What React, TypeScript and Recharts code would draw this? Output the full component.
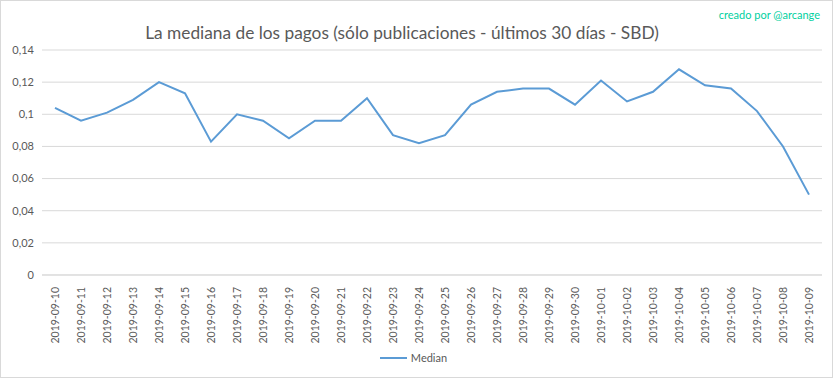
import React from 'react';
import { LineChart, Line, XAxis, YAxis, CartesianGrid, Legend } from 'recharts';

const dates = [
  '2019-09-10','2019-09-11','2019-09-12','2019-09-13','2019-09-14','2019-09-15','2019-09-16','2019-09-17','2019-09-18','2019-09-19',
  '2019-09-20','2019-09-21','2019-09-22','2019-09-23','2019-09-24','2019-09-25','2019-09-26','2019-09-27','2019-09-28','2019-09-29',
  '2019-09-30','2019-10-01','2019-10-02','2019-10-03','2019-10-04','2019-10-05','2019-10-06','2019-10-07','2019-10-08','2019-10-09',
];
const medians = [
  0.104, 0.096, 0.101, 0.109, 0.12, 0.113, 0.083, 0.1, 0.096, 0.085,
  0.096, 0.096, 0.11, 0.087, 0.082, 0.087, 0.106, 0.114, 0.116, 0.116,
  0.106, 0.121, 0.108, 0.114, 0.128, 0.118, 0.116, 0.102, 0.08, 0.05,
];
const yTicks = [0, 0.02, 0.04, 0.06, 0.08, 0.1, 0.12, 0.14];
const title = 'La mediana de los pagos (sólo publicaciones - últimos 30 días - SBD)';
const credit = 'creado por @arcange';
const seriesName = 'Median';

const data = dates.map((d, i) => ({ date: d, Median: medians[i] }));
const FONT = 'Lato, "Open Sans", sans-serif';

const fmt = (v: number) => String(Number(v.toFixed(2))).replace('.', ',');

const XTick = (props: any) => {
  const { x, y, payload } = props;
  return (
    <text x={x} y={y + 4} transform={`rotate(-90 ${x} ${y + 4})`} textAnchor="end" dominantBaseline="central"
      fill="#595959" fontSize={10.5} fontFamily={FONT}>
      {payload.value}
    </text>
  );
};

const LegendContent = () => (
  <div style={{ display: 'flex', justifyContent: 'center', alignItems: 'center', fontFamily: FONT, fontSize: 11, color: '#595959', paddingLeft: 4 }}>
    <svg width={28} height={6}><line x1={0} y1={3} x2={27} y2={3} stroke="#5b9bd5" strokeWidth={2} /></svg>
    <span style={{ marginLeft: 3 }}>{seriesName}</span>
  </div>
);

export default function App() {
  return (
    <div style={{ position: 'absolute', left: 0, top: 0, width: 833, height: 378, background: '#fff', border: '1px solid #d9d9d9', boxSizing: 'border-box' }}>
      <div style={{ position: 'absolute', left: 0, top: 0, width: 833, height: 378 }}>
        <LineChart width={833} height={378} data={data} margin={{ top: 49, right: 12, left: 0, bottom: 0 }}>
          <CartesianGrid vertical={false} stroke="#d9d9d9" strokeWidth={1} />
          <XAxis dataKey="date" interval={0} tick={<XTick />} tickLine={false} axisLine={{ stroke: '#d9d9d9' }} height={76}
            padding={{ left: 13, right: 13 }} />
          <YAxis width={41} domain={[0, 0.14]} ticks={yTicks} tickFormatter={fmt} axisLine={false} tickLine={false}
            tick={{ fill: '#595959', fontSize: 11, fontFamily: FONT }} />
          <Legend verticalAlign="bottom" height={28} content={<LegendContent />} />
          <Line type="linear" dataKey="Median" name={seriesName} stroke="#5b9bd5" strokeWidth={2} dot={false} isAnimationActive={false} />
        </LineChart>
      </div>
      <div style={{ position: 'absolute', left: 0, width: 802, top: 21, textAlign: 'center', fontFamily: FONT, fontSize: 17.3, color: '#595959', whiteSpace: 'nowrap' }}>
        {title}
      </div>
      <div style={{ position: 'absolute', right: 12, top: 7, fontFamily: FONT, fontSize: 11, color: '#00d0a0', whiteSpace: 'nowrap' }}>
        {credit}
      </div>
    </div>
  );
}
